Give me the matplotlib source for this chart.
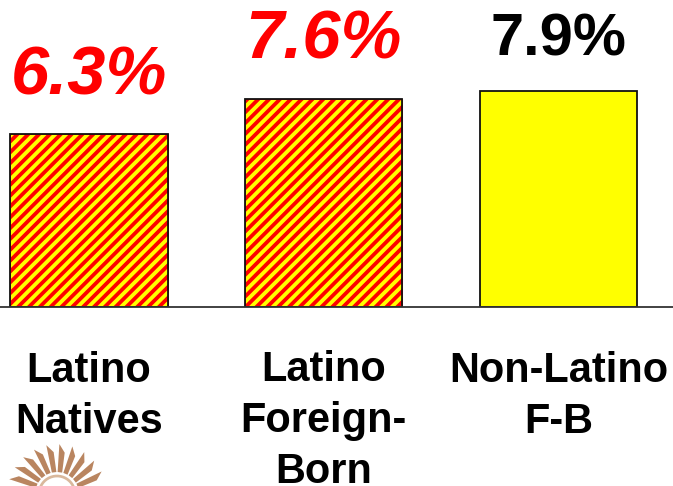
#!/usr/bin/env python3
"""Bar chart: rates for Latino natives, Latino foreign-born and non-Latino foreign-born."""
import matplotlib
matplotlib.use("Agg")
import matplotlib.pyplot as plt
from matplotlib.patches import Polygon
from matplotlib.transforms import blended_transform_factory
import numpy as np

categories = ["Latino\nNatives", "Latino\nForeign-\nBorn", "Non-Latino\nF-B"]
values = [6.3, 7.6, 7.9]
value_labels = ["6.3%", "7.6%", "7.9%"]
hatched = [True, True, False]

DPI = 130
W, H = 673, 486
plt.rcParams["font.family"] = ["Liberation Sans", "DejaVu Sans"]
plt.rcParams["hatch.linewidth"] = 2.1

fig = plt.figure(figsize=(W / DPI, H / DPI), dpi=DPI)
fig.patch.set_facecolor("white")
ax = fig.add_axes([0, 179 / H, 1, 274 / H])
ax.set_xlim(-0.379, 2.488)
ax.set_ylim(0, 10)
x = np.arange(len(categories))

for xi, v, h in zip(x, values, hatched):
    if h:
        ax.bar(xi, v, width=0.67, color="#FFFF00", edgecolor="#FF0000",
               hatch="////", linewidth=0.5)
        ax.bar(xi, v, width=0.67, fill=False, edgecolor="#111111", linewidth=1.0)
    else:
        ax.bar(xi, v, width=0.67, color="#FFFF00", edgecolor="#111111", linewidth=1.0)

# value labels above the bars
for xi, v, lab, h in zip(x, values, value_labels, hatched):
    if h:
        ax.annotate(lab, (xi, v), xytext=(0, 22.2), textcoords="offset points",
                    ha="center", va="baseline", fontsize=38, weight="bold",
                    style="italic", color="#FF0000")
    else:
        ax.annotate(lab, (xi, v), xytext=(0, 19.4), textcoords="offset points",
                    ha="center", va="baseline", fontsize=33, weight="bold",
                    color="black")

# category labels below the axis (baseline of the last line is anchored)
trans = blended_transform_factory(ax.transData, fig.transFigure)
for xi, cat in zip(x, categories):
    n = cat.count("\n")
    ax.text(xi, (H - 383 - 50 * n) / H, cat, transform=trans, ha="center",
            va="baseline", fontsize=23, weight="bold", color="black",
            linespacing=1.35, multialignment="center")

for side in ["top", "right", "left"]:
    ax.spines[side].set_visible(False)
ax.spines["bottom"].set_color("#333333")
ax.spines["bottom"].set_linewidth(1.0)
ax.set_xticks([])
ax.set_yticks([])

# small sun logo in the bottom-left corner (pixel coordinates)
cx, cy = 57, -8
for ang in np.linspace(22, 158, 10):
    a = np.deg2rad(ang)
    r0, r1 = 22, 50
    w = np.deg2rad(6)
    pts = [
        (cx + r0 * np.cos(a - w), cy + r0 * np.sin(a - w)),
        (cx + (r1 - 8) * np.cos(a - w * 0.5), cy + (r1 - 8) * np.sin(a - w * 0.5)),
        (cx + r1 * np.cos(a + w * 0.8), cy + r1 * np.sin(a + w * 0.8)),
        (cx + r0 * np.cos(a + w), cy + r0 * np.sin(a + w)),
    ]
    fig.patches.append(Polygon([(px / W, py / H) for px, py in pts], closed=True,
                               transform=fig.transFigure,
                               facecolor="#b98560", edgecolor="none"))
arc = [(cx + 18 * np.cos(t), cy + 18 * np.sin(t)) for t in np.linspace(0, np.pi, 24)]
fig.patches.append(Polygon([(px / W, py / H) for px, py in arc], closed=False,
                           fill=False, edgecolor="#d9b89c", linewidth=1.5,
                           transform=fig.transFigure))

fig.savefig("out.png", dpi=DPI, facecolor="white")
